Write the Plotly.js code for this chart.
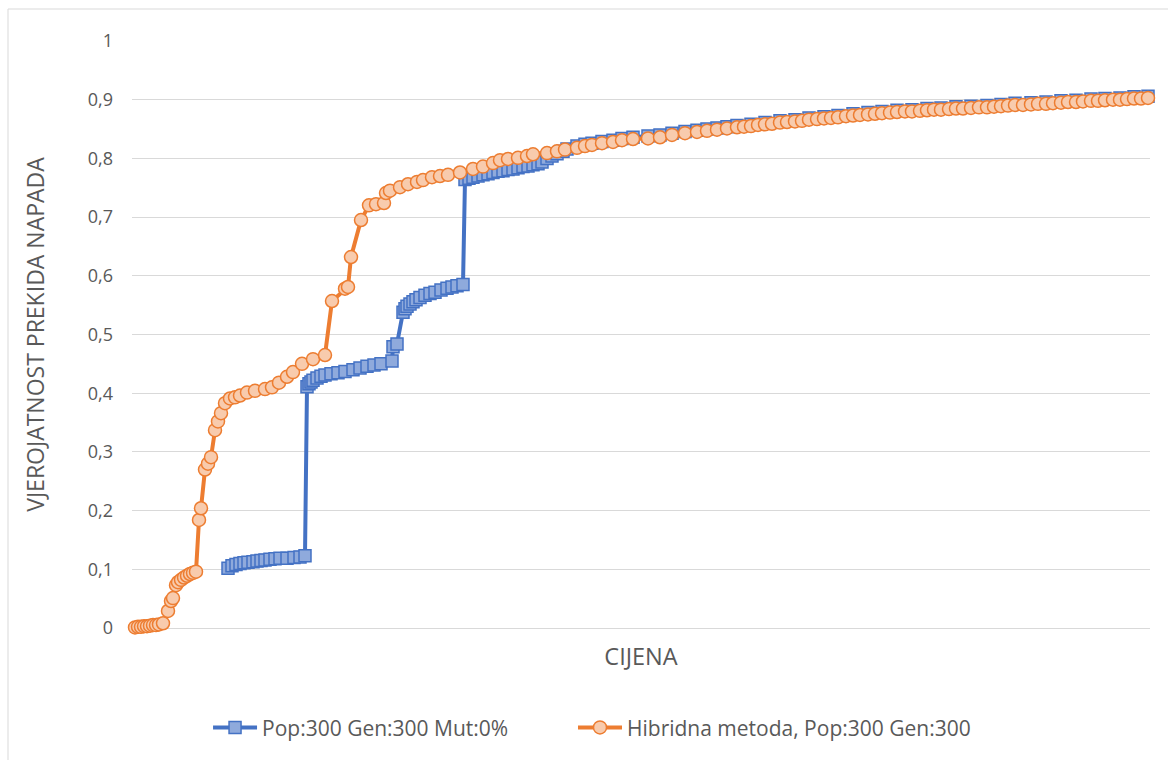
<!DOCTYPE html>
<html>
<head>
<meta charset="utf-8">
<script src="https://cdn.plot.ly/plotly-3.0.1.min.js"></script>
<style>html,body{margin:0;padding:0;background:#fff;}#chart{width:1168px;height:760px;}</style>
</head>
<body>
<div id="chart"></div>
<script>
// CIJENA (cost, arbitrary units read from position) and VJEROJATNOST values
const seriesBlueName = "Pop:300 Gen:300 Mut:0%";
const seriesOrangeName = "Hibridna metoda, Pop:300 Gen:300";

const blueCijena = [96,100,104,108,112,116,121,125,129,133,138,143,148,155,162,168,173,
  175,177,179,181,185,189,193,199,206,213,221,228,235,242,249,260,
  261,265,271,273,275,278,281,284,288,293,298,303,309,315,320,325,331,
  333,337,341,346,351,356,361,366,371,376,381,386,391,396,401,406,410,415,420,425,431,435,
  445,453,460,470,481,490,501,516,528,540,553,565,575,585,595,605,619,633,648,663,677,692,706,721,736,750,765,780,795,809,824,839,855,869,883,899,914,929,944,959,973,988,1002,1016];
const blueVjerojatnost = [0.102,0.106,0.108,0.110,0.111,0.112,0.113,0.114,0.115,0.116,0.117,0.118,0.119,0.119,0.120,0.121,0.123,
  0.411,0.416,0.419,0.422,0.426,0.429,0.431,0.433,0.435,0.437,0.440,0.443,0.446,0.448,0.450,0.455,
  0.479,0.484,0.538,0.544,0.548,0.552,0.556,0.559,0.563,0.567,0.570,0.572,0.576,0.579,0.581,0.583,0.585,
  0.764,0.766,0.768,0.770,0.772,0.774,0.776,0.778,0.779,0.781,0.782,0.784,0.786,0.787,0.789,0.791,0.794,0.800,0.804,0.808,0.812,0.816,
  0.821,0.824,0.826,0.829,0.831,0.834,0.836,0.838,0.840,0.843,0.846,0.848,0.850,0.852,0.854,0.856,0.858,0.861,0.864,0.866,0.869,0.871,0.873,0.876,0.878,0.880,0.882,0.883,0.885,0.886,0.888,0.889,0.890,0.892,0.894,0.895,0.896,0.898,0.899,0.901,0.902,0.903,0.905,0.906];

const orangeCijena = [3,6,9,12,15,18,21,24,27,31,36,39,41,44,46,49,52,55,58,61,64,
  67,69,73,76,79,83,86,89,93,98,103,108,115,123,133,140,147,155,161,170,181,193,
  200,213,216,219,229,237,244,252,254,258,268,276,285,291,300,308,316,328,341,351,361,368,376,386,395,401,415,425,433,
  445,453,460,470,481,490,501,516,528,540,553,565,575,585,595,605,
  612,619,626,633,640,648,655,663,670,677,685,692,699,706,714,721,728,736,743,750,758,765,773,780,788,795,802,809,817,824,831,839,847,855,862,869,876,883,891,899,906,914,921,929,936,944,951,959,966,973,981,988,995,1002,1009,1016];
const orangeVjerojatnost = [0.001,0.002,0.002,0.003,0.003,0.004,0.005,0.005,0.006,0.008,0.029,0.046,0.051,0.073,0.078,0.082,0.086,0.089,0.092,0.094,0.096,
  0.184,0.204,0.270,0.280,0.291,0.337,0.352,0.366,0.383,0.391,0.393,0.396,0.401,0.404,0.407,0.410,0.418,0.428,0.436,0.450,0.458,0.465,
  0.557,0.578,0.581,0.632,0.695,0.720,0.722,0.724,0.741,0.745,0.751,0.756,0.760,0.763,0.768,0.770,0.772,0.776,0.782,0.786,0.792,0.797,0.799,0.801,0.804,0.807,0.809,0.812,0.815,
  0.818,0.821,0.823,0.826,0.828,0.831,0.833,0.834,0.836,0.840,0.843,0.845,0.847,0.849,0.851,0.853,
  0.854,0.855,0.857,0.858,0.859,0.861,0.862,0.863,0.864,0.866,0.867,0.868,0.869,0.870,0.872,0.873,0.874,0.875,0.876,0.877,0.878,0.879,0.880,0.880,0.881,0.882,0.883,0.883,0.884,0.885,0.885,0.886,0.887,0.887,0.888,0.889,0.890,0.891,0.891,0.892,0.893,0.893,0.894,0.895,0.896,0.896,0.897,0.898,0.898,0.899,0.900,0.900,0.901,0.902,0.902,0.903];

const yTickVals = [0,0.1,0.2,0.3,0.4,0.5,0.6,0.7,0.8,0.9,1];
const yTickText = ["0","0,1","0,2","0,3","0,4","0,5","0,6","0,7","0,8","0,9","1"];

const FONT = "Open Sans, Liberation Sans, sans-serif";
const GRAY = "#595959";

const traces = [
  {
    x: blueCijena, y: blueVjerojatnost, name: seriesBlueName, legend: "legend",
    type: "scatter", mode: "lines+markers", cliponaxis: false,
    line: {color: "#4472C4", width: 4},
    marker: {symbol: "square", size: 12, color: "#8FAADC", line: {color: "#4472C4", width: 1.5}}
  },
  {
    x: orangeCijena, y: orangeVjerojatnost, name: seriesOrangeName, legend: "legend2",
    type: "scatter", mode: "lines+markers", cliponaxis: false,
    line: {color: "#ED7D31", width: 4},
    marker: {symbol: "circle", size: 13, color: "#F8CBAD", line: {color: "#ED7D31", width: 1.5}}
  }
];

const legendBase = {
  orientation: "h", xanchor: "left", y: -0.17, yanchor: "middle",
  font: {family: FONT, size: 21, color: GRAY}, itemwidth: 44, bgcolor: "rgba(0,0,0,0)"
};

const layout = {
  width: 1168, height: 760,
  paper_bgcolor: "#ffffff", plot_bgcolor: "#ffffff",
  margin: {l: 132, r: 18, t: 41, b: 132},
  font: {family: FONT, color: GRAY, size: 18},
  showlegend: true,
  legend: Object.assign({}, legendBase, {x: 0.0747}),
  legend2: Object.assign({}, legendBase, {x: 0.4332}),
  xaxis: {
    range: [0, 1018], showticklabels: false, showgrid: false, zeroline: false,
    showline: false, ticks: "",
    title: {text: "CIJENA", font: {family: FONT, size: 23.5, color: GRAY}, standoff: 20}
  },
  yaxis: {
    range: [0, 1], tickvals: yTickVals, ticktext: yTickText,
    showgrid: true, gridcolor: "#D9D9D9", gridwidth: 1,
    zeroline: true, zerolinecolor: "#D9D9D9", zerolinewidth: 1,
    showline: false, ticks: "", ticklabelstandoff: 18,
    tickfont: {family: FONT, size: 18, color: GRAY},
    title: {text: "VJEROJATNOST PREKIDA NAPADA", font: {family: FONT, size: 23, color: GRAY}, standoff: 36}
  },
  shapes: [
    {type: "line", xref: "paper", yref: "paper", x0: -0.1218, x1: -0.1218, y0: -0.3, y1: 1.0545, line: {color: "#D9D9D9", width: 1}},
    {type: "line", xref: "paper", yref: "paper", x0: -0.1218, x1: 1.05, y0: 1.0545, y1: 1.0545, line: {color: "#D9D9D9", width: 1}}
  ]
};

Plotly.newPlot("chart", traces, layout, {displayModeBar: false, staticPlot: true});
</script>
</body>
</html>
